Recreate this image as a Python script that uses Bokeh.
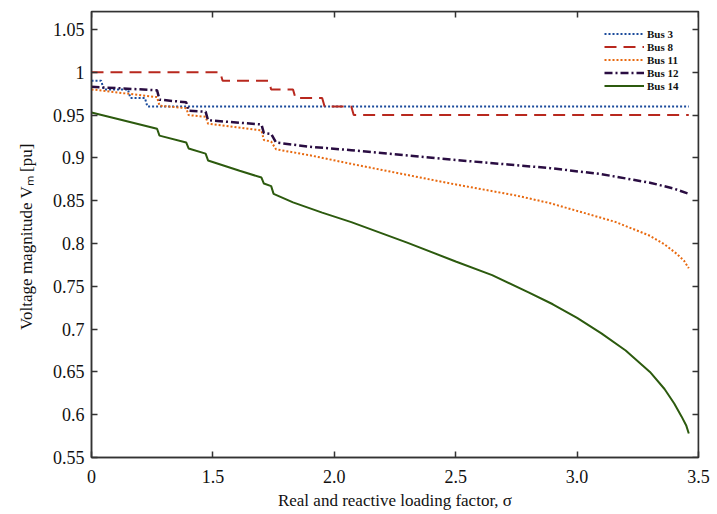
from bokeh.plotting import figure
from bokeh.models import (LinearAxis, FixedTicker, CustomJSTickFormatter, Range1d,
                          Legend, LegendItem)
from bokeh.embed import file_html
from bokeh.resources import INLINE

# ---- data (x is read in the plot's own coordinate: left edge labelled "0") ----
x_ticks = [1.0, 1.5, 2.0, 2.5, 3.0, 3.5]
y_ticks = [0.55, 0.6, 0.65, 0.7, 0.75, 0.8, 0.85, 0.9, 0.95, 1.0, 1.05]
x_min, x_max = 1.0, 3.5
y_min, y_max = 0.55, 1.071

bus3_x = [1.0, 1.04, 1.05, 1.15, 1.16, 1.22, 1.23, 3.46]
bus3_y = [0.99, 0.99, 0.98, 0.98, 0.97, 0.97, 0.96, 0.96]

bus8_x = [1.0, 1.53, 1.54, 1.73, 1.74, 1.83, 1.84, 1.95, 1.96, 2.07, 2.08, 3.46]
bus8_y = [1.0, 1.0, 0.99, 0.99, 0.98, 0.98, 0.97, 0.97, 0.96, 0.96, 0.95, 0.95]

bus11_x = [1.0, 1.27, 1.28, 1.39, 1.40, 1.47, 1.48, 1.70, 1.71, 1.74, 1.76, 1.90,
           2.07, 2.48, 2.75, 2.89, 3.05, 3.16, 3.30, 3.36, 3.41, 3.44, 3.46]
bus11_y = [0.980, 0.971, 0.961, 0.958, 0.950, 0.948, 0.940, 0.932, 0.921, 0.919, 0.910, 0.903,
           0.893, 0.870, 0.856, 0.847, 0.834, 0.825, 0.809, 0.799, 0.788, 0.780, 0.771]

bus12_x = [1.0, 1.27, 1.28, 1.39, 1.40, 1.47, 1.48, 1.70, 1.71, 1.74, 1.76, 1.90,
           2.07, 2.48, 2.89, 3.10, 3.30, 3.40, 3.46]
bus12_y = [0.983, 0.979, 0.968, 0.965, 0.955, 0.954, 0.944, 0.939, 0.929, 0.928, 0.918, 0.913,
           0.909, 0.898, 0.888, 0.881, 0.871, 0.864, 0.858]

bus14_x = [1.0, 1.10, 1.27, 1.28, 1.39, 1.40, 1.47, 1.48, 1.61, 1.70, 1.71, 1.74, 1.75,
           1.83, 1.95, 2.07, 2.30, 2.50, 2.65, 2.80, 2.90, 3.00, 3.10, 3.20, 3.30, 3.36,
           3.40, 3.43, 3.45, 3.46]
bus14_y = [0.953, 0.946, 0.934, 0.926, 0.918, 0.911, 0.905, 0.897, 0.885, 0.877, 0.870, 0.867, 0.858,
           0.848, 0.836, 0.825, 0.801, 0.779, 0.763, 0.743, 0.729, 0.713, 0.695, 0.675, 0.650, 0.630,
           0.613, 0.598, 0.587, 0.578]

FONT = "Liberation Serif"
AX = "#333333"

p = figure(width=716, height=513, output_backend="svg", toolbar_location=None,
           x_range=Range1d(x_min, x_max), y_range=Range1d(y_min, y_max),
           min_border_left=91, min_border_right=18, min_border_top=11, min_border_bottom=56)
p.background_fill_color = "white"
p.border_fill_color = "white"
p.grid.visible = False
p.outline_line_color = AX
p.outline_line_width = 1.5

xfmt = CustomJSTickFormatter(code="return tick == 1 ? '0' : tick.toFixed(1);")
yfmt = CustomJSTickFormatter(code="return String(Math.round(tick*100)/100);")
blank = CustomJSTickFormatter(code="return '';")

def style(ax, ticks, fmt, labels=True):
    ax.ticker = FixedTicker(ticks=ticks)
    ax.formatter = fmt
    ax.minor_tick_line_color = None
    ax.major_tick_in = 6
    ax.major_tick_out = 0
    ax.major_tick_line_color = AX
    ax.major_tick_line_width = 1.5
    ax.axis_line_color = AX
    ax.axis_line_width = 1.5
    ax.major_label_text_font = FONT
    ax.major_label_text_color = "#111111"
    ax.major_label_text_font_size = "18px" if labels else "0px"
    ax.major_label_standoff = 7 if labels else 0
    ax.axis_label_text_font = FONT
    ax.axis_label_text_font_size = "17px"
    ax.axis_label_text_font_style = "normal"
    ax.axis_label_text_color = "#111111"

xa = p.xaxis[0]
ya = p.yaxis[0]
style(xa, x_ticks, xfmt)
style(ya, y_ticks, yfmt)
xa.major_label_standoff = 12
xa.axis_label = "Real and reactive loading factor, σ"
xa.axis_label_standoff = 5
ya.axis_label = "Voltage magnitude  Vₘ [pu]"
ya.axis_label_standoff = 14

top = LinearAxis(fixed_location=y_max)
style(top, x_ticks, blank, labels=False)
p.add_layout(top, "above")
right = LinearAxis(fixed_location=x_max)
style(right, y_ticks, blank, labels=False)
p.add_layout(right, "right")

r3 = p.line(bus3_x, bus3_y, line_color="#1b4b9b", line_width=2, line_dash="2 2")
r8 = p.line(bus8_x, bus8_y, line_color="#b8281e", line_width=2, line_dash="12 7")
r11 = p.line(bus11_x, bus11_y, line_color="#e8690f", line_width=2, line_dash="2 2")
r12 = p.line(bus12_x, bus12_y, line_color="#2a0d42", line_width=2.5, line_dash="8 3 2 3")
r14 = p.line(bus14_x, bus14_y, line_color="#2c5a0e", line_width=2)

legend = Legend(items=[LegendItem(label="Bus 3", renderers=[r3]),
                       LegendItem(label="Bus 8", renderers=[r8]),
                       LegendItem(label="Bus 11", renderers=[r11]),
                       LegendItem(label="Bus 12", renderers=[r12]),
                       LegendItem(label="Bus 14", renderers=[r14])],
                location=(513, 365))
legend.border_line_color = None
legend.background_fill_alpha = 0
legend.margin = 0
legend.padding = 8
legend.spacing = 0
legend.glyph_width = 40
legend.glyph_height = 13
legend.label_height = 13
legend.label_standoff = 3
legend.label_text_font = FONT
legend.label_text_font_size = "11px"
legend.label_text_line_height = 1.0
legend.label_text_font_style = "bold"
legend.label_text_color = "#111111"
p.add_layout(legend, "center")

open("out.html", "w").write(file_html(p, INLINE))
